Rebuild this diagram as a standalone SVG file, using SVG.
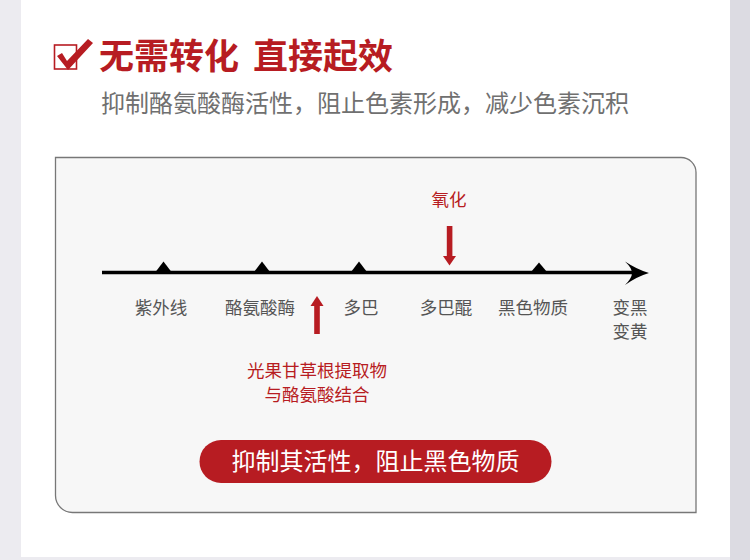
<svg xmlns="http://www.w3.org/2000/svg" width="750" height="560" viewBox="0 0 750 560">
<defs>
<style>
.cjk{font-family:"Noto Sans CJK SC","Noto Sans",sans-serif;}
.title{font-size:35px;font-weight:700;fill:#B71C22;}
.sub{font-size:24px;fill:#707070;}
.lbl{font-size:17.5px;fill:#555555;text-anchor:middle;}
.red{font-size:17.5px;fill:#B71C22;text-anchor:middle;}
.btn{font-size:24px;fill:#FFFFFF;text-anchor:middle;font-weight:400;}
.tri{fill:#000000;}
.rarrow{fill:#B71C22;}
</style>
</defs>
<rect x="0" y="0" width="750" height="560" fill="#ECEBF0"/>
<rect x="730" y="0" width="20" height="560" fill="#DCDBE2"/>
<rect x="21" y="0" width="709" height="557" fill="#FFFFFF"/>

<g id="header">
<rect x="54.5" y="45" width="22" height="24" fill="none" stroke="#B71C22" stroke-width="1.6"/>
<path d="M57,56 L62,53 L67,61 L88,39 L93,43 L68,70 Z" fill="#B71C22"/>
<text class="cjk title" x="99" y="69">无需转化</text>
<text class="cjk title" x="253" y="69">直接起效</text>
<text class="cjk sub" x="101" y="112">抑制酪氨酸酶活性，阻止色素形成，减少色素沉积</text>
</g>

<g id="panel">
<path d="M55.5,157.5 H681 A15,15 0 0 1 696,172.5 V512.5 H72.5 A17,17 0 0 1 55.5,495.5 Z" fill="#F7F7F7" stroke="#777777" stroke-width="1.3"/>
</g>

<g id="connectors">
<line x1="102" y1="272.5" x2="638" y2="272.5" stroke="#000" stroke-width="3.5"/>
<path d="M625,261.5 Q637,269.5 649,273 Q637,276.5 625,285 Q632,278 632,273 Q632,268 625,261.5 Z" fill="#000"/>
<rect class="rarrow" x="446.8" y="226" width="5.6" height="31"/>
<polygon class="rarrow" points="443,256 456,256 449.5,265.5"/>
<rect class="rarrow" x="314.2" y="305" width="5.6" height="29"/>
<polygon class="rarrow" points="310.5,306 323.5,306 317,296"/>
</g>

<g id="node-uv">
<polygon class="tri" points="155.5,272 163.5,261.5 171.5,272"/>
<text class="cjk lbl" x="161" y="314">紫外线</text>
</g>
<g id="node-tyrosinase">
<polygon class="tri" points="254,272 262,261.5 270,272"/>
<text class="cjk lbl" x="260" y="314">酪氨酸酶</text>
</g>
<g id="node-dopa">
<polygon class="tri" points="351,272 359,261.5 367,272"/>
<text class="cjk lbl" x="361" y="314">多巴</text>
</g>
<g id="node-dopaquinone">
<text class="cjk lbl" x="446" y="314">多巴醌</text>
</g>
<g id="node-melanin">
<polygon class="tri" points="531,272 539,262.5 547,272"/>
<text class="cjk lbl" x="533" y="314">黑色物质</text>
</g>
<g id="node-result">
<text class="cjk lbl" x="630" y="314">变黑</text>
<text class="cjk lbl" x="630" y="338">变黄</text>
</g>
<g id="node-oxidation">
<text class="cjk red" x="449" y="206">氧化</text>
</g>
<g id="node-licorice">
<text class="cjk red" x="317" y="377">光果甘草根提取物</text>
<text class="cjk red" x="317" y="401">与酪氨酸结合</text>
</g>
<g id="node-button">
<rect x="199.5" y="440" width="352" height="43" rx="21.5" fill="#B71C22"/>
<text class="cjk btn" x="375.5" y="470">抑制其活性，阻止黑色物质</text>
</g>
</svg>
